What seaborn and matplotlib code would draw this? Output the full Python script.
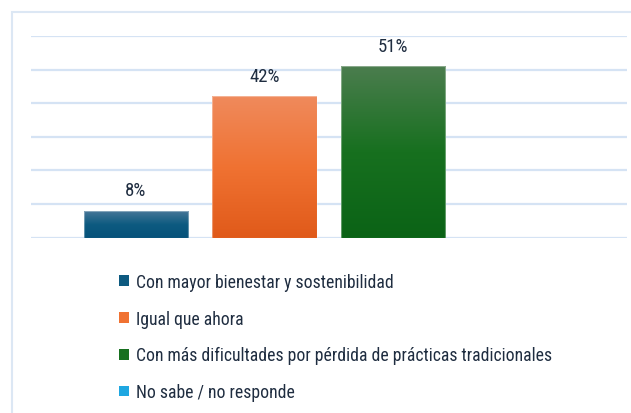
import numpy as np
import matplotlib
matplotlib.use("Agg")
import matplotlib.pyplot as plt
import seaborn as sns
from matplotlib.patches import Patch, Rectangle
from matplotlib.colors import LinearSegmentedColormap
from matplotlib import font_manager

categories = ["Con mayor bienestar y sostenibilidad",
              "Igual que ahora",
              "Con más dificultades por pérdida de prácticas tradicionales",
              "No sabe / no responde"]
values = [8, 42, 51, 0]
value_labels = ["8%", "42%", "51%", ""]
main_colors = ["#0d5a80", "#f07232", "#17701f", "#1ea7e1"]
top_colors = ["#467697", "#ef8a5c", "#4b7d4e", "#5cc0ee"]
bottom_colors = ["#07527a", "#e05a1a", "#0b6316", "#1597d0"]

sns.set_theme(style="white")
avail = {f.name for f in font_manager.fontManager.ttflist}
fam = [f for f in ["Liberation Sans Narrow", "Roboto Condensed", "Roboto", "DejaVu Sans"] if f in avail]
plt.rcParams["font.family"] = fam + ["DejaVu Sans"]

W, H = 631, 414
fig = plt.figure(figsize=(W / 100, H / 100), dpi=100)
fig.patch.set_facecolor("white")

# outer frame
fig.patches.append(Rectangle((12 / W, -0.2), 2.0, 1.2 - 13 / H, transform=fig.transFigure,
                             fill=False, edgecolor="#dce7f4", lw=1.5, zorder=0))

ax_left, ax_right = 31 / W, 627 / W
ax_bottom, ax_top = 1 - 238.5 / H, 1 - 37 / H
ax = fig.add_axes([ax_left, ax_bottom, ax_right - ax_left, ax_top - ax_bottom])
ax.set_facecolor("none")

sns.barplot(x=categories, y=values, hue=categories, palette=main_colors,
            width=0.81, dodge=False, legend=False, ax=ax, saturation=1,
            edgecolor="none", zorder=3)

xlim = (-0.817, 3.82)
ylim = (0, 60)

for i, p in enumerate(ax.patches):
    h = p.get_height()
    if h <= 0:
        continue
    x0 = p.get_x()
    x1 = x0 + p.get_width()
    cmap = LinearSegmentedColormap.from_list(f"g{i}", [bottom_colors[i], main_colors[i], top_colors[i]])
    grad = np.linspace(0, 1, 256).reshape(-1, 1)
    im = ax.imshow(grad, extent=[x0, x1, 0, h], origin="lower", cmap=cmap,
                   aspect="auto", zorder=3.5, interpolation="bicubic")
    im.set_clip_path(p)
    ax.add_patch(Rectangle((x0, 0), x1 - x0, h, fill=False,
                           edgecolor=(1, 1, 1, 0.35), lw=0.8, zorder=4))

for i, p in enumerate(ax.patches[:len(values)]):
    if value_labels[i]:
        ax.annotate(value_labels[i], (p.get_x() + p.get_width() / 2, p.get_height()),
                    xytext=(0, 14.5), textcoords="offset points", ha="center", va="center",
                    fontsize=13.5, color="#1f2d40", zorder=5)

ax.set_xlim(*xlim)
ax.set_ylim(*ylim)
ax.set_yticks(np.arange(0, 61, 10))
ax.yaxis.grid(True, color="#d5e3f4", lw=1.6, zorder=0)
ax.xaxis.grid(False)
ax.set_xticks([])
ax.set_yticklabels([])
ax.tick_params(left=False, bottom=False)
for s in ax.spines.values():
    s.set_visible(False)
ax.set_xlabel("")
ax.set_ylabel("")

handles = [Patch(facecolor=c, edgecolor="none") for c in main_colors]
fig.legend(handles, categories, loc="upper left", bbox_to_anchor=(119 / W, 1 - 274 / H),
           frameon=False, fontsize=12.7, handlelength=0.55, handleheight=0.55,
           handletextpad=0.4, labelspacing=1.06, borderpad=0, borderaxespad=0,
           labelcolor="#1f2d40")

fig.savefig("out.png", dpi=100, facecolor="white")
